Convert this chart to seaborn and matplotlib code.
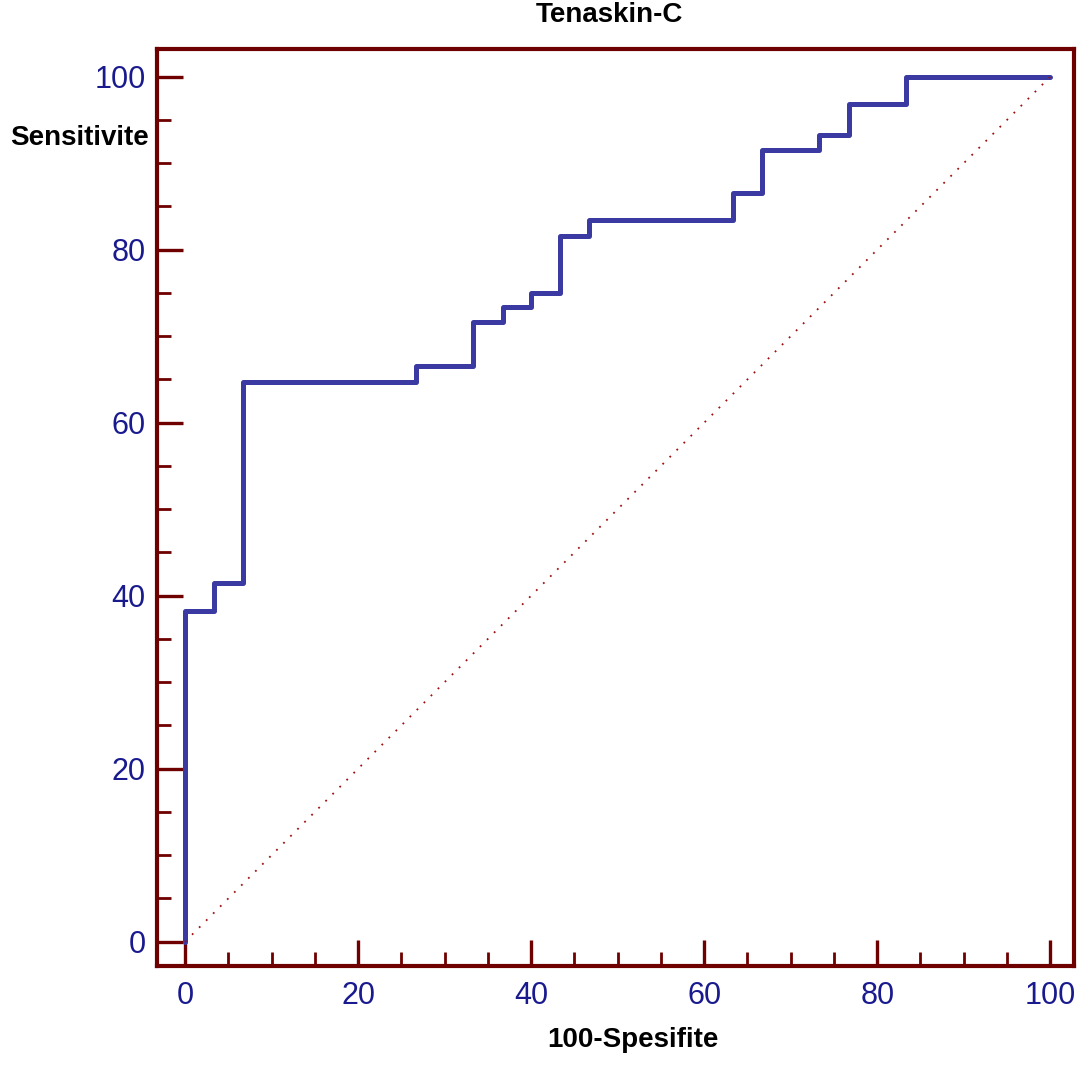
import matplotlib
matplotlib.use("Agg")
import matplotlib.pyplot as plt
import seaborn as sns
import pandas as pd
from matplotlib.ticker import MultipleLocator

# ROC operating points (100-specificity, sensitivity)
fpr = [0, 0, 3.3, 6.7, 26.7, 33.3, 36.7, 40.0, 43.3, 46.7, 63.3, 66.7, 73.3, 76.7, 83.3, 100]
tpr = [0, 38.2, 41.5, 64.7, 66.6, 71.6, 73.4, 75.0, 81.6, 83.4, 86.6, 91.5, 93.3, 96.8, 100, 100]
diag = [0, 100]

title = "Tenaskin-C"
xlabel = "100-Spesifite"
ylabel = "Sensitivite"

sns.set_style("white")
plt.rcParams['font.family'] = ['Liberation Sans', 'DejaVu Sans']

maroon = "#6e0000"
navy = "#1a1a8f"
line_blue = "#3a3aa2"

fig = plt.figure(figsize=(10.87, 10.65), dpi=100)
ax = fig.add_axes([0.1444, 0.0930, 0.8441, 0.861])

roc = pd.DataFrame({"fpr": fpr, "tpr": tpr})
sns.lineplot(data=roc, x="fpr", y="tpr", sort=False, estimator=None,
             drawstyle="steps-post", color=line_blue, linewidth=3.6, ax=ax)
sns.lineplot(x=diag, y=diag, estimator=None, color="#a01010", linewidth=1.3,
             linestyle=(0, (1, 4.5)), ax=ax)

ax.set_xlim(-3.24, 102.8)
ax.set_ylim(-2.8, 103.2)

for side in ["left", "right", "top", "bottom"]:
    ax.spines[side].set_color(maroon)
    ax.spines[side].set_linewidth(3.0)
    ax.spines[side].set_visible(True)

ax.xaxis.set_major_locator(MultipleLocator(20))
ax.xaxis.set_minor_locator(MultipleLocator(5))
ax.yaxis.set_major_locator(MultipleLocator(20))
ax.yaxis.set_minor_locator(MultipleLocator(5))
ax.tick_params(which="both", direction="in", color=maroon, top=False, right=False,
               bottom=True, left=True)
ax.tick_params(which="major", length=19, width=2.4, labelsize=22,
               labelcolor=navy)
ax.tick_params(which="minor", length=10, width=2.0)
ax.tick_params(axis="y", which="major", pad=8)
ax.tick_params(axis="x", which="major", pad=11)

ax.set_xlabel("")
ax.set_ylabel("")
fig.text(0.561, 0.986, title, ha="center", va="center", fontsize=20,
         fontweight="bold", color="black")
fig.text(0.0092, 0.870, ylabel, ha="left", va="center", fontsize=20,
         fontweight="bold", color="black")
fig.text(0.582, 0.0235, xlabel, ha="center", va="center", fontsize=20,
         fontweight="bold", color="black")

fig.savefig("out.png", dpi=100)
